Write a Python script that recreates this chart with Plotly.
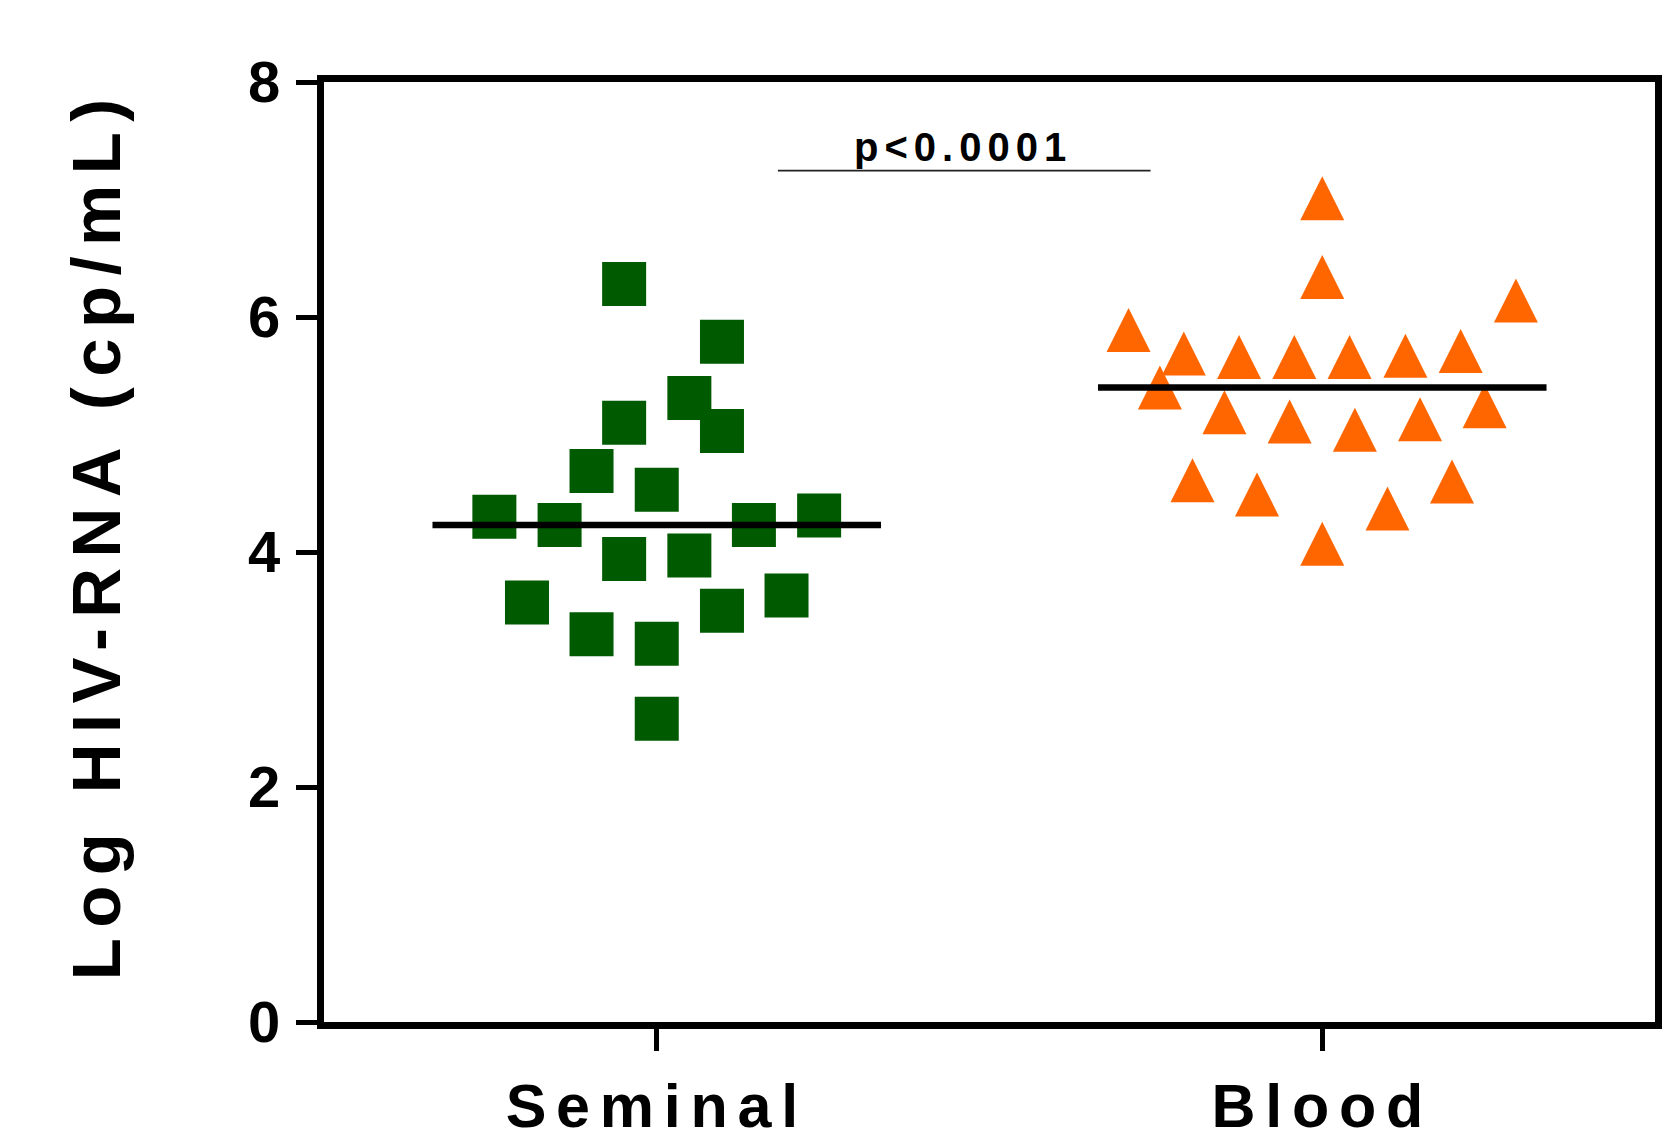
import numpy as np
import plotly.graph_objects as go

# ---------------- data ----------------
categories = ["Seminal", "Blood"]

seminal_values = [6.28, 5.79, 5.31, 5.10, 5.03, 4.69, 4.53, 4.30, 4.23, 4.23,
                  4.31, 3.94, 3.97, 3.57, 3.63, 3.50, 3.30, 3.22, 2.58]
# horizontal scatter offsets (category units) used to spread overlapping points
seminal_offsets = [-0.049, 0.098, 0.049, -0.049, 0.098, -0.098, 0.0, -0.244, -0.146, 0.146,
                   0.244, -0.049, 0.049, -0.195, 0.195, 0.098, -0.098, 0.0, 0.0]

blood_values = [7.01, 6.34, 6.14, 5.89, 5.69, 5.66, 5.66, 5.66, 5.67, 5.71,
                5.40, 5.19, 5.24, 5.11, 5.04, 5.13, 4.61, 4.60, 4.49, 4.37, 4.07]
blood_offsets = [0.0, 0.0, 0.291, -0.291, -0.208, -0.125, -0.042, 0.041, 0.125, 0.208,
                 -0.244, -0.147, 0.244, -0.049, 0.049, 0.147, -0.195, 0.195, -0.098, 0.098, 0.0]

y_ticks = [0, 2, 4, 6, 8]
y_title = "Log HIV-RNA (cp/mL)"
p_label = "p<0.0001"

# ---------------- style ----------------
GREEN = "#005A00"
ORANGE = "#FF6600"
FONT = "Liberation Sans, Arial, sans-serif"
MEDIAN_HALF = 0.337
TRI_SIZE = 44

fig = go.Figure()

sx = [0 + o for o in seminal_offsets]
bx = [1 + o for o in blood_offsets]

fig.add_trace(go.Scatter(
    x=sx, y=seminal_values, mode="markers",
    marker=dict(symbol="square", size=44, color=GREEN, line=dict(width=0)),
    showlegend=False, hoverinfo="y"))

fig.add_trace(go.Scatter(
    x=bx, y=blood_values, mode="markers",
    marker=dict(symbol="arrow-down", angle=180, standoff=TRI_SIZE / 2,
                size=TRI_SIZE, color=ORANGE, line=dict(width=0)),
    showlegend=False, hoverinfo="y"))

for i, vals in enumerate([seminal_values, blood_values]):
    med = float(np.median(vals))
    fig.add_trace(go.Scatter(
        x=[i - MEDIAN_HALF, i + MEDIAN_HALF], y=[med, med], mode="lines",
        line=dict(color="black", width=6.5), showlegend=False, hoverinfo="skip"))

# significance bracket
fig.add_shape(type="line", x0=0.182, x1=0.742, y0=7.246, y1=7.246,
              xref="x", yref="y", line=dict(color="#222222", width=1.6))
fig.add_annotation(x=0.46, y=7.45, xref="x", yref="y", text=p_label,
                   showarrow=False, xanchor="center", yanchor="middle",
                   font=dict(family=FONT, size=40, color="black", weight="bold"))

# y title as rotated annotation
fig.add_annotation(x=-0.171, y=0.5186, xref="paper", yref="paper", text=y_title,
                   textangle=-90, showarrow=False, xanchor="center", yanchor="middle",
                   font=dict(family=FONT, size=69, color="black", weight="bold"))

fig.update_xaxes(
    range=[-0.5, 1.5], tickmode="array", tickvals=[0, 1], ticktext=categories,
    showline=True, linewidth=6.5, linecolor="black", mirror=True,
    ticks="outside", ticklen=22, tickwidth=4.5, tickcolor="black",
    tickfont=dict(family=FONT, size=61, color="black", weight="bold"),
    ticklabelstandoff=3, automargin=False,
    showgrid=False, zeroline=False)

fig.update_yaxes(
    range=[0, 8], tickmode="array", tickvals=y_ticks,
    ticktext=[str(t) for t in y_ticks],
    showline=True, linewidth=6.5, linecolor="black", mirror=True,
    ticks="outside", ticklen=21, tickwidth=5, tickcolor="black",
    tickfont=dict(family=FONT, size=58, color="black", weight="bold"),
    ticklabelstandoff=-5, automargin=False,
    showgrid=False, zeroline=False)

fig.update_layout(
    width=1664, height=1128, autosize=False,
    margin=dict(l=324, r=9, t=82, b=106, pad=0, autoexpand=False),
    paper_bgcolor="white", plot_bgcolor="white",
    font=dict(family=FONT, color="black"),
)

post_script = """
(function(){
  document.body.style.margin = '0';
  document.body.style.overflow = 'hidden';
  var gd = document.getElementById('{plot_id}');
  function sp(){
    gd.querySelectorAll('.xtick text, .ytick text').forEach(function(t){ t.style.letterSpacing='0.16em'; });
    gd.querySelectorAll('.annotation-text').forEach(function(t){ t.style.letterSpacing='0.15em'; });
  }
  sp();
  if (gd.on) { gd.on('plotly_afterplot', sp); }
})();
"""

fig.write_html("out.html", config={"displayModeBar": False}, post_script=post_script)
